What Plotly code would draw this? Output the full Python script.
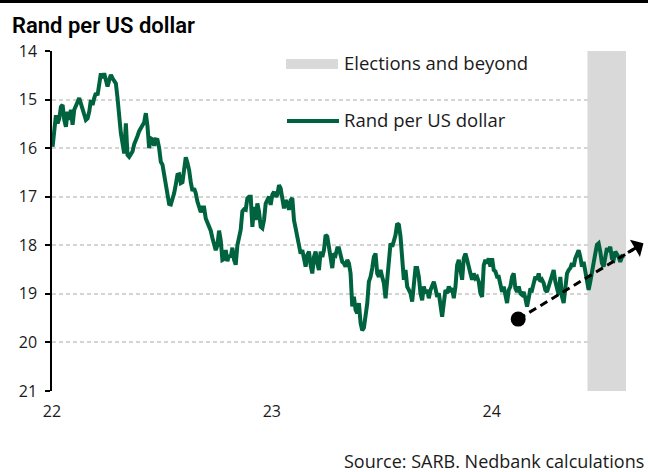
import plotly.graph_objects as go
import pandas as pd

# Rand per US dollar (roughly every 2-3 days)
rand_2022 = [15.97, 15.63, 15.32, 15.49, 15.39, 15.15, 15.11, 15.42, 15.56, 15.25,
             15.42, 15.21, 15.52, 15.21, 15.15, 15.05, 14.97, 15.08, 15.21, 15.35,
             15.42, 15.39, 15.25, 15.01, 15.11, 14.97, 14.87, 14.91, 14.60, 14.46,
             14.56, 14.46, 14.60, 14.73, 14.60, 14.49, 14.56, 14.60, 14.67, 14.97,
             15.42, 15.69, 15.90, 16.11, 15.49, 16.14, 16.18, 16.14, 16.07, 15.92,
             15.80, 15.75, 15.65, 15.60, 15.53, 15.47, 15.28, 15.55, 16.00, 15.80,
             15.82, 15.95, 15.82, 15.83, 16.00, 16.28, 16.34, 16.55, 16.85, 17.05,
             17.15, 17.16, 17.05, 16.93, 16.75, 16.55, 16.54, 16.72, 16.70, 16.35,
             16.19, 16.30, 16.45, 16.70, 16.88, 16.83, 16.93, 17.10, 17.22, 17.32,
             17.22, 17.22, 17.45, 17.54, 17.60, 17.70, 17.85, 18.00, 18.10, 18.00,
             17.70, 17.90, 18.30, 18.28, 18.10, 18.33, 18.20, 18.25, 18.05, 18.30,
             18.40, 18.00, 17.78, 17.68, 17.30, 17.26, 17.27, 17.03, 17.00, 17.00,
             17.62, 17.21, 17.48, 17.14, 17.31, 17.62, 17.65, 17.48, 17.14, 17.07,
             17.00, 17.17]
rand_2023 = [16.96, 16.90, 17.00, 16.96, 16.76, 16.83, 17.07, 17.24, 17.07, 17.14,
             17.27, 17.07, 17.03, 17.48, 17.65, 17.82, 17.96, 18.17, 18.10, 18.24,
             18.44, 18.20, 18.13, 18.41, 18.58, 18.24, 18.13, 18.37, 18.51, 18.13,
             18.24, 18.10, 17.79, 17.82, 18.03, 18.24, 18.47, 18.17, 18.20, 18.06,
             18.06, 18.20, 18.34, 18.37, 18.44, 18.30, 18.37, 18.58, 19.26, 19.06,
             19.33, 19.40, 19.19, 19.60, 19.75, 19.70, 19.45, 19.20, 18.75, 18.65,
             18.47, 18.24, 18.17, 18.58, 18.65, 18.51, 18.65, 18.78, 19.09, 18.65,
             18.17, 17.96, 18.03, 17.89, 17.79, 17.55, 17.58, 17.82, 18.37, 18.71,
             18.51, 18.85, 18.92, 18.99, 19.16, 18.78, 18.47, 18.47, 18.65, 18.99,
             19.13, 18.85, 18.99, 18.92, 19.09, 18.92, 18.85, 18.75, 18.89, 19.06,
             18.99, 19.33, 19.47, 19.19, 18.92, 18.99, 18.85, 18.92, 18.89, 19.09,
             18.85, 18.41, 18.30, 18.51, 18.71, 18.27, 18.17, 18.30, 18.41, 18.58,
             18.71, 18.58, 18.68, 18.65, 18.75, 18.99, 19.06, 18.41, 18.30, 18.37,
             18.27, 18.44]
rand_2024 = [18.27, 18.51, 18.54, 18.65, 18.65, 18.82, 18.96, 18.85, 19.06, 19.19,
             18.92, 18.85, 18.65, 18.58, 18.89, 18.96, 18.85, 18.99, 19.02, 18.96,
             19.09, 19.26, 19.09, 18.89, 18.92, 18.78, 18.65, 18.71, 18.58, 18.75,
             18.71, 18.78, 18.92, 18.96, 18.85, 18.78, 18.61, 18.51, 18.75, 18.92,
             19.02, 18.65, 19.06, 19.19, 18.78, 18.58, 18.51, 18.47, 18.37, 18.44,
             18.27, 18.17, 18.10, 18.24, 18.44, 18.34, 18.58, 18.71, 18.92, 18.75,
             18.51, 18.30, 18.17, 17.99, 17.96, 18.13, 18.37, 18.44, 18.20, 18.06,
             18.13, 18.03, 18.27, 18.30, 18.13, 18.17, 18.24, 18.34, 18.24, 18.27]
rand_per_usd = rand_2022 + rand_2023 + rand_2024
first_obs, last_obs = "2022-01-02", "2024-08-07"

x_start, x_end = "2022-01-01", "2024-08-11"
x_ticks = ["2022-01-01", "2023-01-01", "2024-01-01"]
x_tick_labels = ["22", "23", "24"]
y_top, y_bottom = 14, 21
y_ticks = [14, 15, 16, 17, 18, 19, 20, 21]

elections_start = "2024-06-08"
trend_from = ("2024-02-14", 19.52)
trend_to = ("2024-09-09", 17.96)

title_text = "Rand per US dollar"
legend_band = "Elections and beyond"
legend_line = "Rand per US dollar"
source_text = "Source: SARB. Nedbank calculations"

GREEN = "#00633F"
BAND = "#d9d9d9"
FONT = "Open Sans"
TITLE_FONT = "Roboto"
W, H = 648, 472
ML, MR, MT, MB = 52, 22, 51, 81
PW, PH = W - ML - MR, H - MT - MB

dates = pd.date_range(first_obs, last_obs, periods=len(rand_per_usd))


def xpaper(d):
    t0, t1 = pd.Timestamp(x_start), pd.Timestamp(x_end)
    return (pd.Timestamp(d) - t0) / (t1 - t0)


def ypaper(v):
    return (y_bottom - v) / (y_bottom - y_top)


def px_x(p):
    return (p - ML) / PW


def px_y(p):
    return (H - MB - p) / PH


fig = go.Figure()
fig.add_trace(go.Scatter(x=dates, y=rand_per_usd, mode="lines", name=legend_line,
                         line=dict(color=GREEN, width=4), showlegend=False))
fig.add_trace(go.Scatter(x=[trend_from[0]], y=[trend_from[1]], mode="markers",
                         marker=dict(color="black", size=15), showlegend=False,
                         cliponaxis=False))

ax0, ay0 = xpaper(trend_from[0]), ypaper(trend_from[1])
ax1, ay1 = xpaper(trend_to[0]), ypaper(trend_to[1])
frac = 0.92

shapes = [
    dict(type="rect", xref="x", yref="y", x0=elections_start, x1=x_end,
         y0=y_top, y1=y_bottom, fillcolor=BAND, line=dict(width=0), layer="between"),
    dict(type="line", xref="paper", yref="paper",
         x0=ax0, y0=ay0, x1=ax0 + frac * (ax1 - ax0), y1=ay0 + frac * (ay1 - ay0),
         line=dict(color="black", width=3, dash="8px,5px"), layer="above"),
    # legend samples
    dict(type="rect", xref="paper", yref="paper", x0=px_x(286), x1=px_x(338),
         y0=px_y(69), y1=px_y(59), fillcolor=BAND, line=dict(width=0)),
    dict(type="line", xref="paper", yref="paper", x0=px_x(287), x1=px_x(339),
         y0=px_y(121), y1=px_y(121), line=dict(color=GREEN, width=4)),
    # top rule
    dict(type="line", xref="paper", yref="paper", x0=px_x(0), x1=px_x(W),
         y0=px_y(1.5), y1=px_y(1.5), line=dict(color="black", width=3)),
]

annotations = [
    dict(xref="paper", yref="paper", x=px_x(342), y=px_y(63), text=legend_band,
         showarrow=False, xanchor="left", yanchor="middle",
         font=dict(family=FONT, size=18.5, color="#1a1a1a")),
    dict(xref="paper", yref="paper", x=px_x(342), y=px_y(120), text=legend_line,
         showarrow=False, xanchor="left", yanchor="middle",
         font=dict(family=FONT, size=18.5, color="#1a1a1a")),
    dict(xref="paper", yref="paper", x=px_x(646), y=px_y(461), text=source_text,
         showarrow=False, xanchor="right", yanchor="middle",
         font=dict(family=FONT, size=18, color="#1a1a1a")),
    dict(xref="paper", yref="paper", x=ax1, y=ay1,
         showarrow=True, arrowhead=1, arrowwidth=3, arrowsize=1.1, arrowcolor="black",
         ax=-17, ay=10, text=""),
]

fig.update_layout(
    width=W, height=H,
    margin=dict(l=ML, r=MR, t=MT, b=MB),
    paper_bgcolor="white", plot_bgcolor="white",
    title=dict(text=title_text, x=12 / W, xanchor="left", y=1 - 25 / H, yanchor="middle",
               font=dict(family=TITLE_FONT, size=22, color="black", weight=600)),
    shapes=shapes, annotations=annotations,
    font=dict(family=FONT, size=16, color="#1a1a1a"),
    xaxis=dict(type="date", range=[x_start, x_end], tickvals=x_ticks, ticktext=x_tick_labels,
               showgrid=False, showline=False, zeroline=False, ticks="",
               ticklabelstandoff=9, tickfont=dict(family=FONT, size=16)),
    yaxis=dict(range=[y_bottom, y_top], tickvals=y_ticks, showline=True, linecolor="black",
               linewidth=1.5, ticks="outside", ticklen=5, tickwidth=1.5, tickcolor="black",
               showgrid=True, gridcolor="#d4d4d4", gridwidth=1.5, griddash="4px,3px",
               zeroline=False, ticklabelstandoff=5, tickfont=dict(family=FONT, size=16)),
)

fig.write_html("out.html", config={"displayModeBar": False},
               post_script="document.body.style.margin='0';")
